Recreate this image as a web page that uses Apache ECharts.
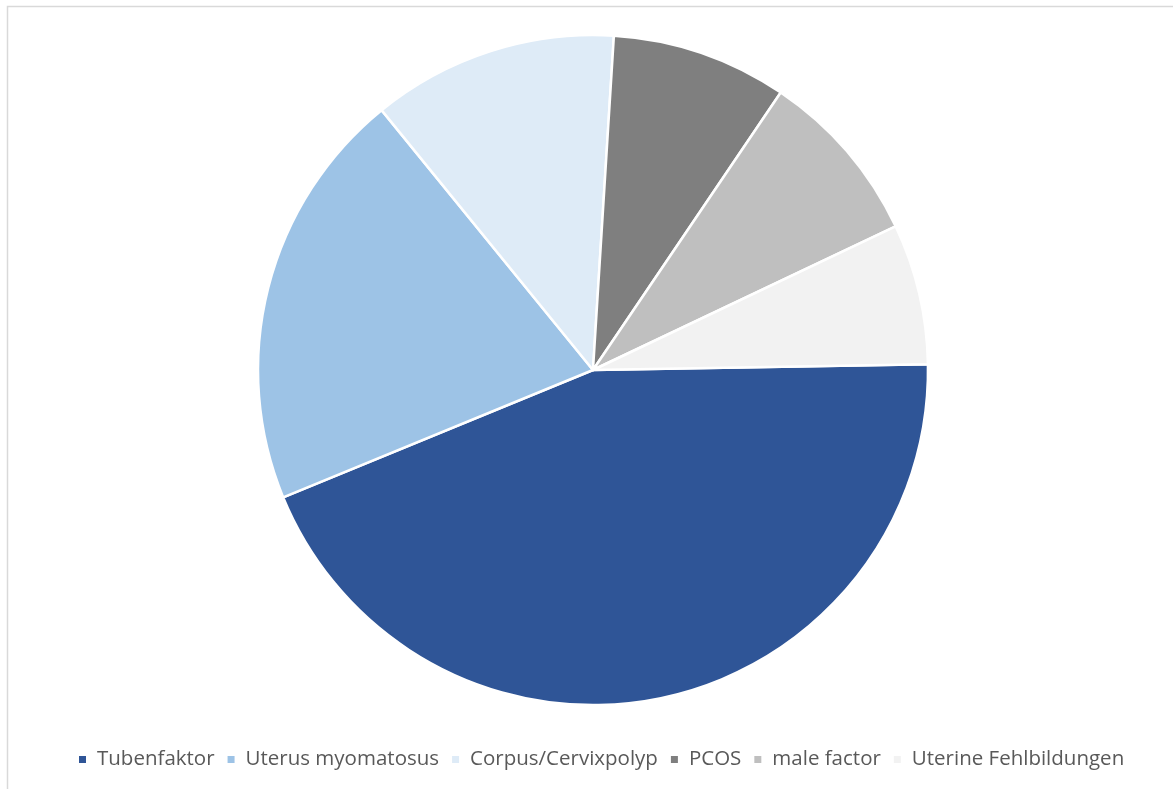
<!DOCTYPE html>
<html>
<head>
<meta charset="utf-8">
<script src="https://cdn.jsdelivr.net/npm/echarts@6/dist/echarts.min.js"></script>
<style>
  html, body { margin: 0; padding: 0; background: #fff; }
  #chart { width: 1173px; height: 789px; }
</style>
</head>
<body>
<div id="chart"></div>
<script>
// Causes of infertility (case counts)
const categories = ['Tubenfaktor', 'Uterus myomatosus', 'Corpus/Cervixpolyp', 'PCOS', 'male factor', 'Uterine Fehlbildungen'];
const counts = [26, 12, 7, 5, 5, 4];
const colors = ['#2F5597', '#9DC3E6', '#DEEBF7', '#7F7F7F', '#BFBFBF', '#F2F2F2'];

const chart = echarts.init(document.getElementById('chart'), null, { renderer: 'canvas' });

chart.setOption({
  animation: false,
  backgroundColor: '#ffffff',
  color: colors,
  graphic: [{
    type: 'rect',
    shape: { x: 7.5, y: 6.5, width: 1180, height: 800 },
    style: { fill: 'none', stroke: '#D9D9D9', lineWidth: 1.5 },
    silent: true
  }],
  legend: {
    bottom: 14,
    left: 72,
    itemWidth: 9,
    itemHeight: 9,
    itemGap: 11,
    icon: 'rect',
    textStyle: { color: '#595959', fontSize: 20.5, fontFamily: 'Open Sans', padding: [0, 0, 0, 5] },
    data: categories
  },
  series: [{
    type: 'pie',
    center: [593, 370],
    radius: [0, 335],
    startAngle: 1,
    clockwise: true,
    label: { show: false },
    labelLine: { show: false },
    itemStyle: { borderColor: '#ffffff', borderWidth: 2.5 },
    emphasis: { disabled: true },
    data: categories.map((name, i) => ({ name, value: counts[i] }))
  }]
});
</script>
</body>
</html>
